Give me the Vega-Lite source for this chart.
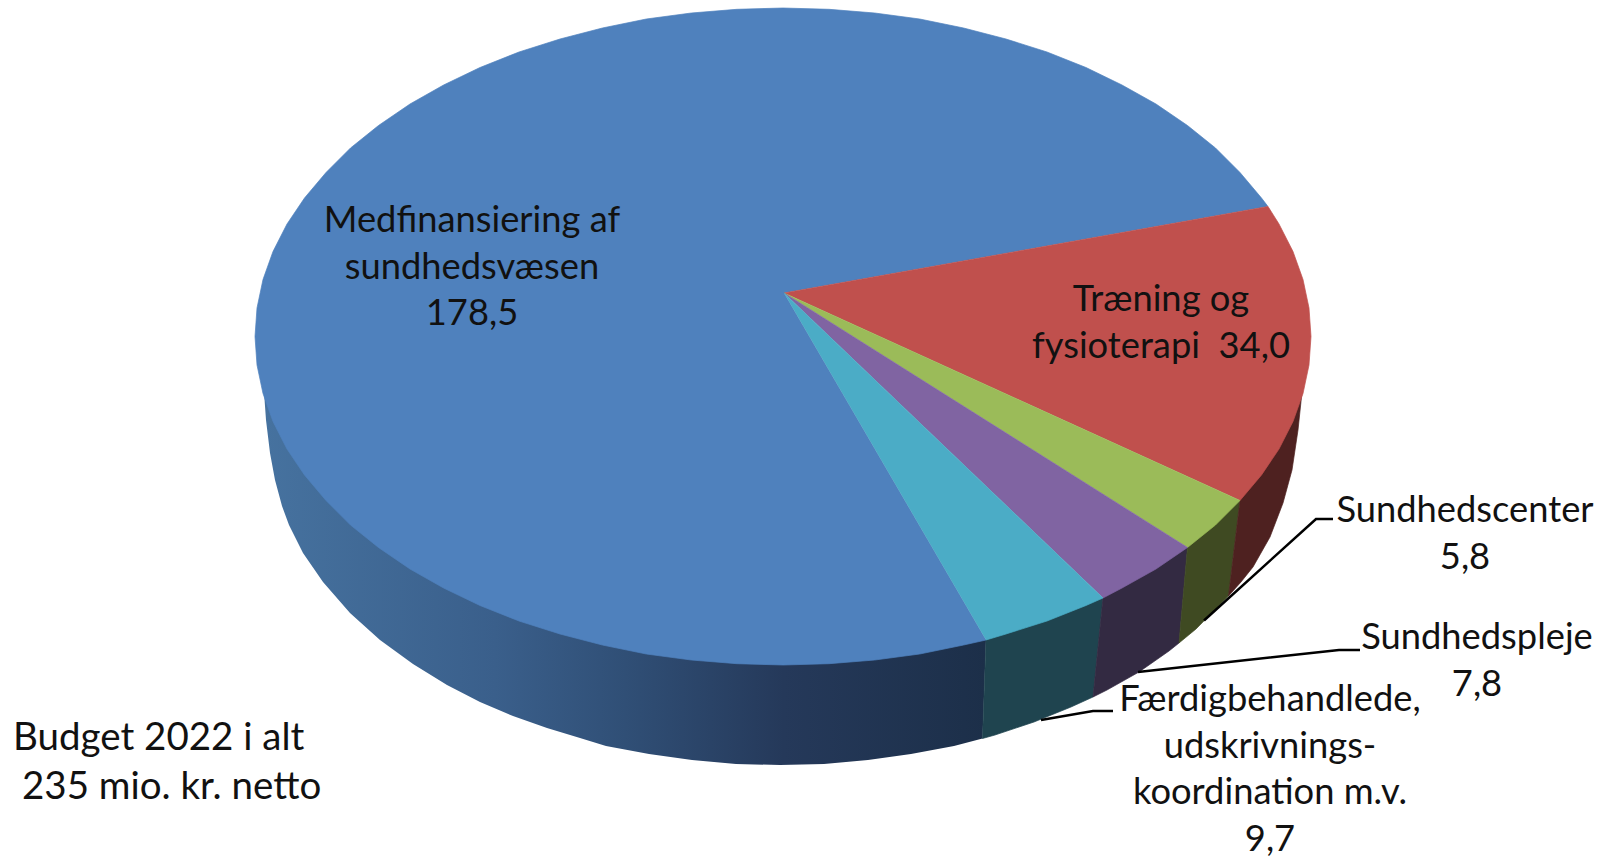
{
"$schema":"https://vega.github.io/schema/vega-lite/v6.json",
"width":1603,"height":859,"padding":0,"autosize":{"type":"none"},"background":"white",
"config":{"view":{"stroke":null}},
"datasets":{
"sideBlue":[
{"i":1,"x":986,"y":640},{"i":2,"x":982.5,"y":738.5},{"i":3,"x":954,"y":746},{"i":4,"x":911,"y":754},{"i":5,"x":868,"y":760},{"i":6,"x":824,"y":764},{"i":7,"x":780,"y":765},{"i":8,"x":736,"y":764},{"i":9,"x":692,"y":760},{"i":10,"x":649,"y":754},{"i":11,"x":606,"y":746},{"i":12,"x":580,"y":738},{"i":13,"x":547,"y":728},{"i":14,"x":513,"y":716},{"i":15,"x":480,"y":702},{"i":16,"x":447,"y":685},{"i":17,"x":413,"y":664},{"i":18,"x":380,"y":640},{"i":19,"x":350,"y":613},{"i":20,"x":323,"y":582},{"i":21,"x":303,"y":553},{"i":22,"x":289,"y":525},{"i":23,"x":282,"y":506},{"i":24,"x":275,"y":480},{"i":25,"x":270,"y":453},{"i":26,"x":266,"y":420},{"i":27,"x":264,"y":392},{"i":28,"x":450,"y":400},{"i":29,"x":800,"y":450}
],
"sides":[
{"slice":"Færdigbehandlede side","i":1,"x":1103,"y":598},{"slice":"Færdigbehandlede side","i":2,"x":1093,"y":697},{"slice":"Færdigbehandlede side","i":3,"x":1071,"y":707},{"slice":"Færdigbehandlede side","i":4,"x":1034,"y":722},{"slice":"Færdigbehandlede side","i":5,"x":995,"y":735},{"slice":"Færdigbehandlede side","i":6,"x":982.5,"y":738.5},{"slice":"Færdigbehandlede side","i":7,"x":986,"y":640},{"slice":"Færdigbehandlede side","i":8,"x":1040,"y":600},
{"slice":"Sundhedspleje side","i":1,"x":1187.5,"y":547.5},{"slice":"Sundhedspleje side","i":2,"x":1179,"y":643},{"slice":"Sundhedspleje side","i":3,"x":1169,"y":651},{"slice":"Sundhedspleje side","i":4,"x":1139,"y":672},{"slice":"Sundhedspleje side","i":5,"x":1107,"y":690},{"slice":"Sundhedspleje side","i":6,"x":1093,"y":697},{"slice":"Sundhedspleje side","i":7,"x":1103,"y":598},{"slice":"Sundhedspleje side","i":8,"x":1130,"y":560},
{"slice":"Sundhedscenter side","i":1,"x":1240,"y":500.5},{"slice":"Sundhedscenter side","i":2,"x":1228.5,"y":596},{"slice":"Sundhedscenter side","i":3,"x":1196,"y":629},{"slice":"Sundhedscenter side","i":4,"x":1179,"y":643},{"slice":"Sundhedscenter side","i":5,"x":1187.5,"y":547.5},{"slice":"Sundhedscenter side","i":6,"x":1200,"y":520},
{"slice":"Træning side","i":1,"x":1302,"y":392},{"slice":"Træning side","i":2,"x":1298,"y":430},{"slice":"Træning side","i":3,"x":1292,"y":470},{"slice":"Træning side","i":4,"x":1283,"y":503},{"slice":"Træning side","i":5,"x":1270,"y":537},{"slice":"Træning side","i":6,"x":1253,"y":567},{"slice":"Træning side","i":7,"x":1241,"y":582},{"slice":"Træning side","i":8,"x":1228.5,"y":596},{"slice":"Træning side","i":9,"x":1240,"y":500.5},{"slice":"Træning side","i":10,"x":1230,"y":450}
],
"tops":[
{"slice":"Medfinansiering","i":1,"x":784,"y":293},{"slice":"Medfinansiering","i":2,"x":986,"y":640},{"slice":"Medfinansiering","i":3,"x":963.6,"y":645},{"slice":"Medfinansiering","i":4,"x":919.7,"y":654},{"slice":"Medfinansiering","i":5,"x":874.7,"y":660},{"slice":"Medfinansiering","i":6,"x":829,"y":663.7},{"slice":"Medfinansiering","i":7,"x":783,"y":665},{"slice":"Medfinansiering","i":8,"x":737,"y":663.7},{"slice":"Medfinansiering","i":9,"x":691.3,"y":660},{"slice":"Medfinansiering","i":10,"x":646.3,"y":654},{"slice":"Medfinansiering","i":11,"x":602.4,"y":645},{"slice":"Medfinansiering","i":12,"x":560,"y":634},{"slice":"Medfinansiering","i":13,"x":519,"y":621},{"slice":"Medfinansiering","i":14,"x":480,"y":605.5},{"slice":"Medfinansiering","i":15,"x":443.6,"y":588},{"slice":"Medfinansiering","i":16,"x":410,"y":569},{"slice":"Medfinansiering","i":17,"x":378.5,"y":547.5},{"slice":"Medfinansiering","i":18,"x":350.5,"y":525},{"slice":"Medfinansiering","i":19,"x":326,"y":500.5},{"slice":"Medfinansiering","i":20,"x":304.5,"y":475},{"slice":"Medfinansiering","i":21,"x":287,"y":449},{"slice":"Medfinansiering","i":22,"x":273,"y":421.5},{"slice":"Medfinansiering","i":23,"x":263,"y":393.5},{"slice":"Medfinansiering","i":24,"x":257,"y":365},{"slice":"Medfinansiering","i":25,"x":255,"y":336.5},{"slice":"Medfinansiering","i":26,"x":257,"y":308},{"slice":"Medfinansiering","i":27,"x":263,"y":279.5},{"slice":"Medfinansiering","i":28,"x":273,"y":251.5},{"slice":"Medfinansiering","i":29,"x":287,"y":224},{"slice":"Medfinansiering","i":30,"x":304.5,"y":198},{"slice":"Medfinansiering","i":31,"x":326,"y":172.5},{"slice":"Medfinansiering","i":32,"x":350.5,"y":148},{"slice":"Medfinansiering","i":33,"x":378.5,"y":125.5},{"slice":"Medfinansiering","i":34,"x":410,"y":104},{"slice":"Medfinansiering","i":35,"x":443.6,"y":85},{"slice":"Medfinansiering","i":36,"x":480,"y":67.5},{"slice":"Medfinansiering","i":37,"x":519,"y":52},{"slice":"Medfinansiering","i":38,"x":560,"y":39},{"slice":"Medfinansiering","i":39,"x":602.4,"y":28},{"slice":"Medfinansiering","i":40,"x":646.3,"y":19},{"slice":"Medfinansiering","i":41,"x":691.3,"y":13},{"slice":"Medfinansiering","i":42,"x":737,"y":9.3},{"slice":"Medfinansiering","i":43,"x":783,"y":8},{"slice":"Medfinansiering","i":44,"x":829,"y":9.3},{"slice":"Medfinansiering","i":45,"x":874.7,"y":13},{"slice":"Medfinansiering","i":46,"x":919.7,"y":19},{"slice":"Medfinansiering","i":47,"x":963.6,"y":28},{"slice":"Medfinansiering","i":48,"x":1006,"y":39},{"slice":"Medfinansiering","i":49,"x":1047,"y":52},{"slice":"Medfinansiering","i":50,"x":1086,"y":67.5},{"slice":"Medfinansiering","i":51,"x":1122,"y":85},{"slice":"Medfinansiering","i":52,"x":1156,"y":104},{"slice":"Medfinansiering","i":53,"x":1187.5,"y":125.5},{"slice":"Medfinansiering","i":54,"x":1215.5,"y":148},{"slice":"Medfinansiering","i":55,"x":1240,"y":172.5},{"slice":"Medfinansiering","i":56,"x":1261.5,"y":198},{"slice":"Medfinansiering","i":57,"x":1268,"y":206.5},
{"slice":"Træning","i":1,"x":784,"y":293},{"slice":"Træning","i":2,"x":1268,"y":206.5},{"slice":"Træning","i":3,"x":1279,"y":224},{"slice":"Træning","i":4,"x":1293,"y":251.5},{"slice":"Træning","i":5,"x":1303,"y":279.5},{"slice":"Træning","i":6,"x":1309,"y":308},{"slice":"Træning","i":7,"x":1311,"y":336.5},{"slice":"Træning","i":8,"x":1309,"y":365},{"slice":"Træning","i":9,"x":1303,"y":393.5},{"slice":"Træning","i":10,"x":1293,"y":421.5},{"slice":"Træning","i":11,"x":1279,"y":449},{"slice":"Træning","i":12,"x":1261.5,"y":475},{"slice":"Træning","i":13,"x":1240,"y":500.5},
{"slice":"Sundhedscenter","i":1,"x":784,"y":293},{"slice":"Sundhedscenter","i":2,"x":1240,"y":500.5},{"slice":"Sundhedscenter","i":3,"x":1215.5,"y":525},{"slice":"Sundhedscenter","i":4,"x":1187.5,"y":547.5},
{"slice":"Sundhedspleje","i":1,"x":784,"y":293},{"slice":"Sundhedspleje","i":2,"x":1187.5,"y":547.5},{"slice":"Sundhedspleje","i":3,"x":1156,"y":569},{"slice":"Sundhedspleje","i":4,"x":1122,"y":588},{"slice":"Sundhedspleje","i":5,"x":1103,"y":598},
{"slice":"Færdigbehandlede","i":1,"x":784,"y":293},{"slice":"Færdigbehandlede","i":2,"x":1103,"y":598},{"slice":"Færdigbehandlede","i":3,"x":1086,"y":605.5},{"slice":"Færdigbehandlede","i":4,"x":1047,"y":621},{"slice":"Færdigbehandlede","i":5,"x":1006,"y":634},{"slice":"Færdigbehandlede","i":6,"x":986,"y":640}
],
"leaders":[
{"slice":"Sundhedscenter","i":1,"x":1204,"y":620.5},{"slice":"Sundhedscenter","i":2,"x":1316,"y":519},{"slice":"Sundhedscenter","i":3,"x":1333,"y":519},
{"slice":"Sundhedspleje","i":1,"x":1138,"y":672},{"slice":"Sundhedspleje","i":2,"x":1339,"y":650},{"slice":"Sundhedspleje","i":3,"x":1360,"y":650},
{"slice":"Færdigbehandlede","i":1,"x":1041,"y":720},{"slice":"Færdigbehandlede","i":2,"x":1093,"y":711},{"slice":"Færdigbehandlede","i":3,"x":1113,"y":711}
],
"labels":[
{"category":"Medfinansiering af sundhedsvæsen","value":178.5,"text":"Medfinansiering af\nsundhedsvæsen\n178,5","x":472,"y":232},
{"category":"Træning og fysioterapi","value":34.0,"text":"Træning og\nfysioterapi \u00a034,0","x":1161,"y":311},
{"category":"Sundhedscenter","value":5.8,"text":"Sundhedscenter\n5,8","x":1465,"y":522},
{"category":"Sundhedspleje","value":7.8,"text":"Sundhedspleje\n7,8","x":1477,"y":649},
{"category":"Færdigbehandlede, udskrivningskoordination m.v.","value":9.7,"text":"Færdigbehandlede,\nudskrivnings-\nkoordination m.v.\n9,7","x":1270,"y":711}
],
"notes":[
{"text":"Budget 2022 i alt","x":13,"y":749.5},
{"text":"235 mio. kr. netto","x":22,"y":799}
]
},
"layer":[
{"data":{"name":"sideBlue"},
 "mark":{"type":"line","filled":true,"strokeWidth":0,"fill":{"gradient":"linear","x1":0,"y1":0,"x2":1,"y2":0,"stops":[{"offset":0,"color":"#46729f"},{"offset":0.32,"color":"#3a5f8b"},{"offset":0.5,"color":"#304f76"},{"offset":0.72,"color":"#25395a"},{"offset":1,"color":"#1c2f49"}]}},
 "encoding":{"x":{"field":"x","type":"quantitative","scale":{"domain":[0,1603],"nice":false,"zero":false},"axis":null},"y":{"field":"y","type":"quantitative","scale":{"domain":[859,0],"nice":false,"zero":false},"axis":null},"order":{"field":"i"}}},
{"data":{"name":"sides"},
 "mark":{"type":"line","filled":true,"strokeWidth":0.7},
 "encoding":{"x":{"field":"x","type":"quantitative","axis":null},"y":{"field":"y","type":"quantitative","axis":null},"order":{"field":"i"},
  "color":{"field":"slice","type":"nominal","legend":null,"scale":{"domain":["Færdigbehandlede side","Sundhedspleje side","Sundhedscenter side","Træning side","Medfinansiering","Træning","Sundhedscenter","Sundhedspleje","Færdigbehandlede"],"range":["#1f444f","#332a42","#3f4a22","#4e2120","#4f81bd","#c0504d","#9bbb59","#8064a2","#4bacc6"]}},
  "stroke":{"field":"slice","type":"nominal","legend":null,"scale":{"domain":["Færdigbehandlede side","Sundhedspleje side","Sundhedscenter side","Træning side","Medfinansiering","Træning","Sundhedscenter","Sundhedspleje","Færdigbehandlede"],"range":["#1f444f","#332a42","#3f4a22","#4e2120","#4f81bd","#c0504d","#9bbb59","#8064a2","#4bacc6"]}}}},
{"data":{"name":"tops"},
 "mark":{"type":"line","filled":true,"strokeWidth":0.7},
 "encoding":{"x":{"field":"x","type":"quantitative","axis":null},"y":{"field":"y","type":"quantitative","axis":null},"order":{"field":"i"},
  "color":{"field":"slice","type":"nominal","legend":null},
  "stroke":{"field":"slice","type":"nominal","legend":null}}},
{"data":{"name":"leaders"},
 "mark":{"type":"line","stroke":"#000000","strokeWidth":2.5},
 "encoding":{"x":{"field":"x","type":"quantitative","axis":null},"y":{"field":"y","type":"quantitative","axis":null},"order":{"field":"i"},"detail":{"field":"slice"}}},
{"data":{"name":"labels"},
 "mark":{"type":"text","font":"Lato","fontSize":36.3,"align":"center","baseline":"alphabetic","lineBreak":"\n","lineHeight":46.7,"color":"#111111"},
 "encoding":{"x":{"field":"x","type":"quantitative","axis":null},"y":{"field":"y","type":"quantitative","axis":null},"text":{"field":"text"}}},
{"data":{"name":"notes"},
 "mark":{"type":"text","font":"Lato","fontSize":38.5,"align":"left","baseline":"alphabetic","color":"#111111"},
 "encoding":{"x":{"field":"x","type":"quantitative","axis":null},"y":{"field":"y","type":"quantitative","axis":null},"text":{"field":"text"}}}
]
}
